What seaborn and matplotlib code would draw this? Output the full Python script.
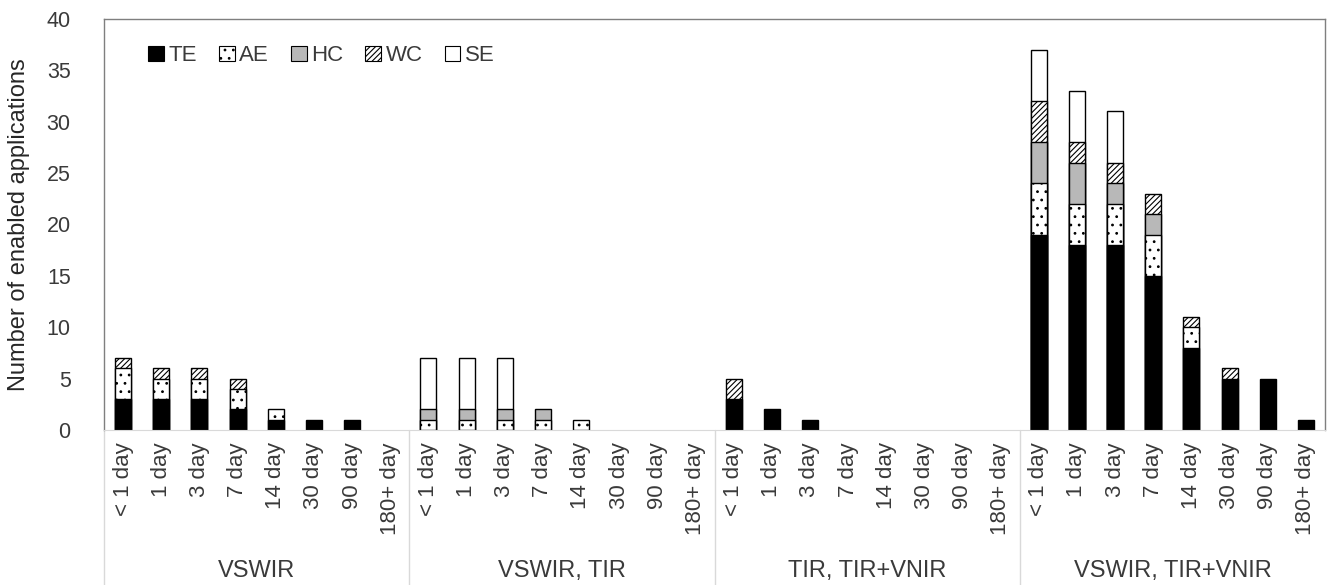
import numpy as np
import pandas as pd
import matplotlib
matplotlib.use('Agg')
import matplotlib.pyplot as plt
import matplotlib.transforms as mtransforms
from matplotlib.patches import Patch
import seaborn as sns

groups = ['VSWIR', 'VSWIR, TIR', 'TIR, TIR+VNIR', 'VSWIR, TIR+VNIR']
days = ['< 1 day', '1 day', '3 day', '7 day', '14 day', '30 day', '90 day', '180+ day']

# values per slot (8 revisit times x 4 sensor groups)
te = [3, 3, 3, 2, 1, 1, 1, 0,
      0, 0, 0, 0, 0, 0, 0, 0,
      3, 2, 1, 0, 0, 0, 0, 0,
      19, 18, 18, 15, 8, 5, 5, 1]
ae = [3, 2, 2, 2, 1, 0, 0, 0,
      1, 1, 1, 1, 1, 0, 0, 0,
      0, 0, 0, 0, 0, 0, 0, 0,
      5, 4, 4, 4, 2, 0, 0, 0]
hc = [0, 0, 0, 0, 0, 0, 0, 0,
      1, 1, 1, 1, 0, 0, 0, 0,
      0, 0, 0, 0, 0, 0, 0, 0,
      4, 4, 2, 2, 0, 0, 0, 0]
wc = [1, 1, 1, 1, 0, 0, 0, 0,
      0, 0, 0, 0, 0, 0, 0, 0,
      2, 0, 0, 0, 0, 0, 0, 0,
      4, 2, 2, 2, 1, 1, 0, 0]
se = [0, 0, 0, 0, 0, 0, 0, 0,
      5, 5, 5, 0, 0, 0, 0, 0,
      0, 0, 0, 0, 0, 0, 0, 0,
      5, 5, 5, 0, 0, 0, 0, 0]

layers = ['TE', 'AE', 'HC', 'WC', 'SE']
colors = {'TE': 'black', 'AE': 'white', 'HC': '#b8b8b8', 'WC': 'white', 'SE': 'white'}
hatches = {'TE': '', 'AE': '..', 'HC': '', 'WC': '//////', 'SE': ''}

slots = [f'{g}|{d}' for g in groups for d in days]
df = pd.DataFrame({'slot': slots, 'TE': te, 'AE': ae, 'HC': hc, 'WC': wc, 'SE': se})
cum = df[layers].cumsum(axis=1)

sns.set_style('white')
plt.rcParams['font.family'] = ['Liberation Sans', 'DejaVu Sans']
plt.rcParams['hatch.linewidth'] = 0.8
plt.rcParams['text.color'] = '#3a3a3a'
plt.rcParams['xtick.color'] = '#3a3a3a'
plt.rcParams['ytick.color'] = '#3a3a3a'

fig = plt.figure(figsize=(13.27, 5.85), dpi=100)
ax = fig.add_axes([0.0784, 0.265, 0.9201, 0.7025])

# stacked bars: draw cumulative heights from top layer down, each covering the one above
for lay in reversed(layers):
    sub = pd.DataFrame({'slot': df['slot'], 'val': cum[lay]})[df[lay] > 0]
    sns.barplot(data=sub, x='slot', y='val', order=slots, color=colors[lay],
                hatch=hatches[lay], edgecolor='black', linewidth=1.0,
                width=0.42, saturation=1, errorbar=None, ax=ax)

ax.set_xlim(-0.5, len(slots) - 0.5)
ax.set_ylim(0, 40)
ax.set_yticks(range(0, 41, 5))
ax.set_xticks(range(len(slots)))
ax.set_xticklabels(days * len(groups), rotation=90, fontsize=16)
ax.tick_params(axis='x', length=0, pad=9)
ax.tick_params(axis='y', length=0, pad=24, labelsize=15.5)
ax.set_xlabel('')
ax.set_ylabel('Number of enabled applications', fontsize=17, labelpad=12)

for s in ['left', 'top', 'right']:
    ax.spines[s].set_color('#7f7f7f')
    ax.spines[s].set_linewidth(1.0)
ax.spines['bottom'].set_color('#d9d9d9')

# multi-level category axis
trans = mtransforms.blended_transform_factory(ax.transData, ax.transAxes)
for k in range(len(groups)):
    x0 = k * len(days) - 0.5
    ax.plot([x0, x0], [0, -0.38], transform=trans, clip_on=False,
            color='#d9d9d9', linewidth=1.0)
    ax.text(k * len(days) + (len(days) - 1) / 2, -0.343, groups[k], transform=trans,
            ha='center', va='center', fontsize=17)

handles = [Patch(facecolor=colors[l], edgecolor='black', hatch=hatches[l], linewidth=0.8)
           for l in layers]
ax.legend(handles, layers, loc='upper left', bbox_to_anchor=(0.02, 0.985), ncol=5,
          frameon=False, fontsize=16, handlelength=0.7, handleheight=0.7,
          handletextpad=0.2, columnspacing=1.0)

fig.savefig('out.png', dpi=100)
